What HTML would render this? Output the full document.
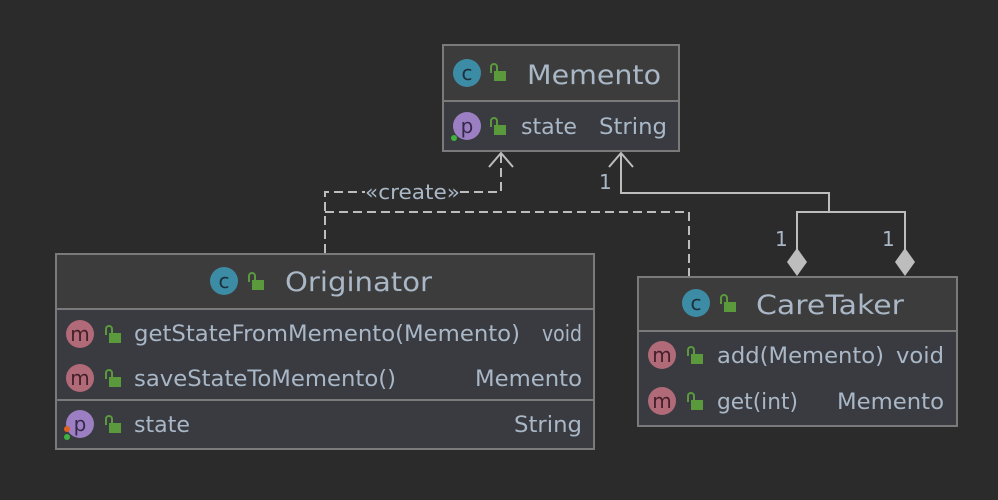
<!DOCTYPE html>
<html><head><meta charset="utf-8"><style>
html,body{margin:0;padding:0;background:#2b2b2b;}
svg{display:block}
text{font-family:"DejaVu Sans","Liberation Sans",sans-serif;fill:#a9b7c6}
text.ic{font-family:"DejaVu Sans",sans-serif}
</style></head><body>
<svg width="998" height="500" viewBox="0 0 998 500" xmlns="http://www.w3.org/2000/svg">
<defs>
<g id="lock"><rect x="-2" y="-1" width="12" height="10" fill="#5a9a3c"/><path d="M-5,1 V-5 a3,3 0 0 1 6,0 V-1" fill="none" stroke="#5a9a3c" stroke-width="2"/></g>
</defs>
<rect width="998" height="500" fill="#2b2b2b"/>

<g fill="none" stroke="#bdbdbd" stroke-width="2">
<path d="M325,253 V192 H501 V153" stroke-dasharray="9,5"/>
<path d="M325,212 H689 V276" stroke-dasharray="9,5"/>
<path d="M489,167 L501,153 L513,167"/>
<path d="M621,153 V193 H829 V212 M797,250 V212 H905 V250"/>
<path d="M609,167 L621,153 L633,167"/>
</g>
<path d="M797,248 L807,262 L797,276 L787,262 Z" fill="#bdbdbd"/>
<path d="M905,248 L915,262 L905,276 L895,262 Z" fill="#bdbdbd"/>
<rect x="365" y="185" width="95" height="16" fill="#2b2b2b"/>
<text x="365" y="199" font-size="20" textLength="95" lengthAdjust="spacingAndGlyphs">«create»</text>
<text x="599" y="189" font-size="20">1</text>
<text x="775" y="246" font-size="20">1</text>
<text x="882" y="246" font-size="20">1</text>

<!-- Memento -->
<rect x="443" y="45" width="236" height="106" fill="#393b40" stroke="#7a7a7a" stroke-width="2"/>
<rect x="444" y="46" width="234" height="55" fill="#3c3c3c"/>
<line x1="443" y1="101" x2="679" y2="101" stroke="#7a7a7a" stroke-width="2"/>
<circle cx="467" cy="73" r="14" fill="#3c8ca6"/><text class="ic" x="467" y="80" font-size="20" text-anchor="middle" style="fill:#1c2f3a">c</text>
<use href="#lock" x="496" y="72"/>
<text x="527" y="84" font-size="27" textLength="134" lengthAdjust="spacingAndGlyphs">Memento</text>
<circle cx="467" cy="126" r="14" fill="#9b7fc2"/><text class="ic" x="467" y="133" font-size="20" text-anchor="middle" style="fill:#352848">p</text>
<circle cx="454" cy="138" r="3" fill="#3fb33f"/>
<use href="#lock" x="496" y="126"/>
<text x="521" y="134" font-size="22" textLength="56" lengthAdjust="spacingAndGlyphs">state</text>
<text x="599" y="134" font-size="22" textLength="68" lengthAdjust="spacingAndGlyphs">String</text>

<!-- Originator -->
<rect x="56" y="254" width="538" height="195" fill="#393b40" stroke="#7a7a7a" stroke-width="2"/>
<rect x="57" y="255" width="536" height="54" fill="#3c3c3c"/>
<line x1="56" y1="309" x2="594" y2="309" stroke="#7a7a7a" stroke-width="2"/>
<line x1="56" y1="400" x2="594" y2="400" stroke="#7a7a7a" stroke-width="2"/>
<circle cx="224" cy="281" r="14" fill="#3c8ca6"/><text class="ic" x="224" y="288" font-size="20" text-anchor="middle" style="fill:#1c2f3a">c</text>
<use href="#lock" x="254" y="281"/>
<text x="285" y="291" font-size="27" textLength="147" lengthAdjust="spacingAndGlyphs">Originator</text>
<circle cx="80" cy="334" r="14" fill="#b06a78"/><text class="ic" x="80" y="341" font-size="20" text-anchor="middle" style="fill:#45202a">m</text>
<use href="#lock" x="111" y="334"/>
<text x="134" y="341" font-size="22" textLength="386" lengthAdjust="spacingAndGlyphs">getStateFromMemento(Memento)</text>
<text x="542" y="341" font-size="22" textLength="40" lengthAdjust="spacingAndGlyphs">void</text>
<circle cx="80" cy="378" r="14" fill="#b06a78"/><text class="ic" x="80" y="385" font-size="20" text-anchor="middle" style="fill:#45202a">m</text>
<use href="#lock" x="111" y="378"/>
<text x="134" y="386" font-size="22" textLength="262" lengthAdjust="spacingAndGlyphs">saveStateToMemento()</text>
<text x="475" y="386" font-size="22" textLength="107" lengthAdjust="spacingAndGlyphs">Memento</text>
<circle cx="80" cy="424" r="14" fill="#9b7fc2"/><text class="ic" x="80" y="431" font-size="20" text-anchor="middle" style="fill:#352848">p</text>
<circle cx="67" cy="429" r="3" fill="#e0601f"/><circle cx="67" cy="437" r="3" fill="#3fb33f"/>
<use href="#lock" x="111" y="424"/>
<text x="134" y="432" font-size="22" textLength="56" lengthAdjust="spacingAndGlyphs">state</text>
<text x="514" y="432" font-size="22" textLength="68" lengthAdjust="spacingAndGlyphs">String</text>

<!-- CareTaker -->
<rect x="638" y="277" width="319" height="149" fill="#393b40" stroke="#7a7a7a" stroke-width="2"/>
<rect x="639" y="278" width="317" height="53" fill="#3c3c3c"/>
<line x1="638" y1="331" x2="957" y2="331" stroke="#7a7a7a" stroke-width="2"/>
<circle cx="696" cy="303" r="14" fill="#3c8ca6"/><text class="ic" x="696" y="310" font-size="20" text-anchor="middle" style="fill:#1c2f3a">c</text>
<use href="#lock" x="726" y="303"/>
<text x="756" y="314" font-size="27" textLength="148" lengthAdjust="spacingAndGlyphs">CareTaker</text>
<circle cx="662" cy="355" r="14" fill="#b06a78"/><text class="ic" x="662" y="362" font-size="20" text-anchor="middle" style="fill:#45202a">m</text>
<use href="#lock" x="693" y="355"/>
<text x="717" y="363" font-size="22" textLength="167" lengthAdjust="spacingAndGlyphs">add(Memento)</text>
<text x="896" y="363" font-size="22" textLength="48" lengthAdjust="spacingAndGlyphs">void</text>
<circle cx="662" cy="401" r="14" fill="#b06a78"/><text class="ic" x="662" y="408" font-size="20" text-anchor="middle" style="fill:#45202a">m</text>
<use href="#lock" x="693" y="401"/>
<text x="717" y="409" font-size="22" textLength="81" lengthAdjust="spacingAndGlyphs">get(int)</text>
<text x="837" y="409" font-size="22" textLength="107" lengthAdjust="spacingAndGlyphs">Memento</text>
</svg>
</body></html>
